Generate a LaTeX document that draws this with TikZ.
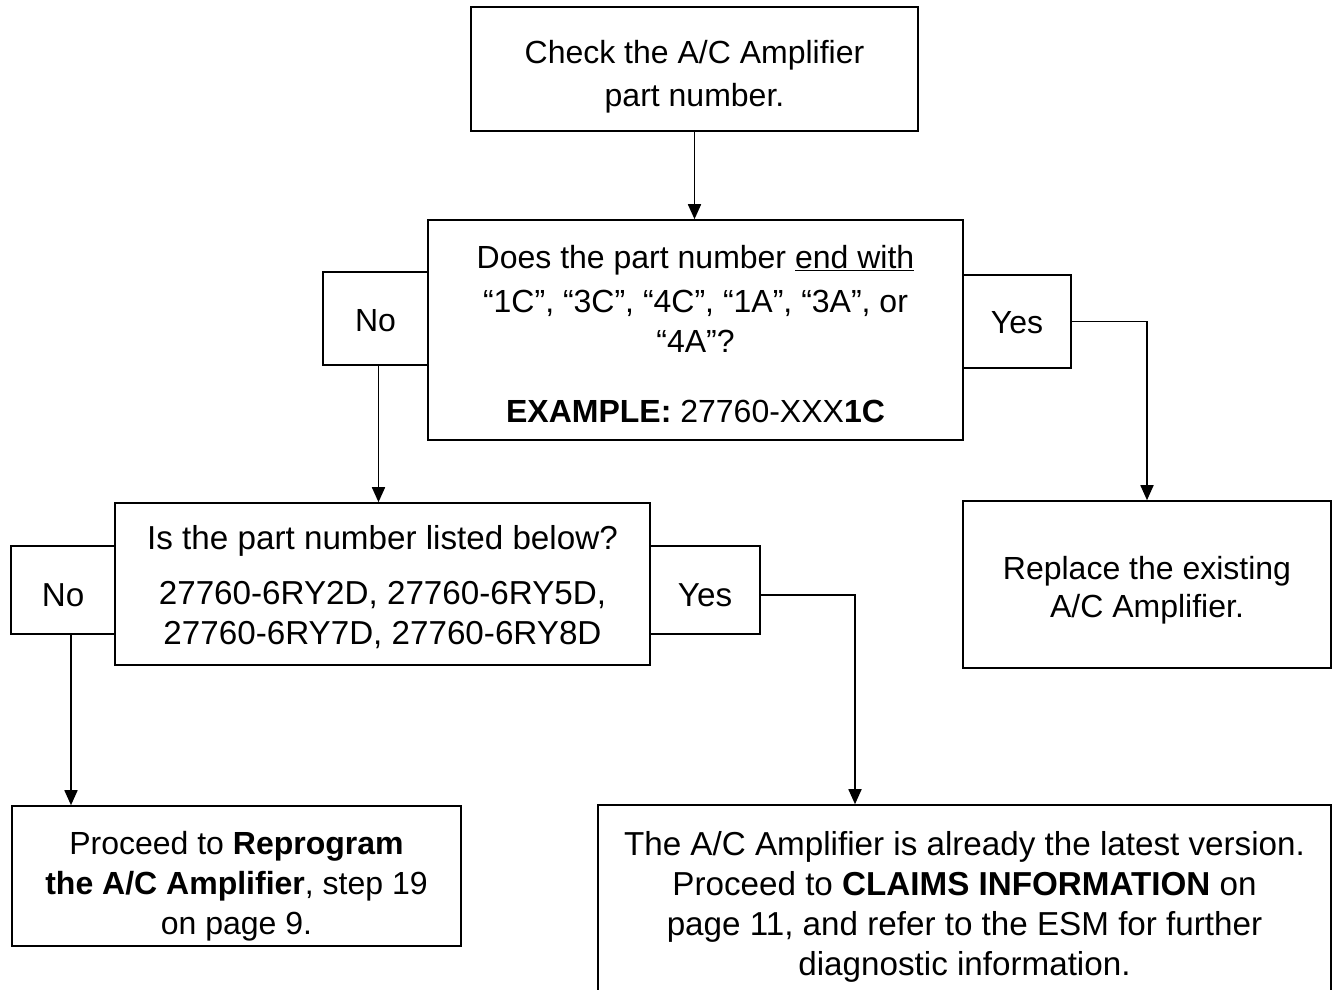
\documentclass[tikz,border=0pt]{standalone}
\usepackage{fontspec}
\setmainfont{Liberation Sans}
\usetikzlibrary{arrows.meta}
\begin{document}
\begin{tikzpicture}[x=1pt,y=-1pt,
  box/.style={draw=black,line width=1.6pt,rectangle,inner sep=0pt},
  txt/.style={inner sep=0pt,align=center,font=\fontsize{32}{40}\selectfont},
  txtb/.style={inner sep=0pt,align=center,font=\fontsize{33.2}{40}\selectfont},
  arr/.style={draw=black,line width=1.7pt,-{Triangle[length=15pt,width=13pt]}}]
\path[use as bounding box] (0,0) rectangle (1336,989);

% boxes
\node[box,minimum width=447pt,minimum height=124pt] (top) at (694.5,69) {};
\node[box,minimum width=535pt,minimum height=220pt] (dec1) at (695.5,330) {};
\node[box,minimum width=105pt,minimum height=93pt] (no1) at (375.5,318.5) {};
\node[box,minimum width=108pt,minimum height=93pt] (yes1) at (1017,321.5) {};
\node[box,minimum width=368pt,minimum height=167pt] (rep) at (1147,584.5) {};
\node[box,minimum width=535pt,minimum height=162pt] (dec2) at (382.5,584) {};
\node[box,minimum width=104pt,minimum height=88pt] (no2) at (63,590) {};
\node[box,minimum width=110pt,minimum height=88pt] (yes2) at (705,590) {};
\node[box,minimum width=449pt,minimum height=140pt] (bl) at (236.5,876) {};
\node[box,minimum width=733pt,minimum height=195pt] (br) at (964.5,902.5) {};

% texts
\node[txt] (topt) at ([yshift=-8pt]top.center)
  {Check the A/C Amplifier\\[3pt]part number.};
\node[txt] (dec1t) at ([yshift=-4pt]dec1.center)
  {Does the part number \underline{end with}\\[4pt]
   “1C”, “3C”, “4C”, “1A”, “3A”, or\\
   “4A”?\\[30pt]
   \textbf{EXAMPLE:} 27760-XXX\textbf{1C}};
\node[txt] (no1t) at ([yshift=-2pt]no1.center) {No};
\node[txt] (yes1t) at ([yshift=-1pt]yes1.center) {Yes};
\node[txt] (rept) at ([yshift=-6pt]rep.center)
  {Replace the existing\\[-2pt]A/C Amplifier.};
\node[txtb] (dec2t) at ([yshift=-3pt]dec2.center)
  {Is the part number listed below?\\[15pt]
   27760-6RY2D, 27760-6RY5D,\\
   27760-6RY7D, 27760-6RY8D};
\node[txtb] (no2t) at ([yshift=-5pt]no2.center) {No};
\node[txtb] (yes2t) at ([yshift=-5pt]yes2.center) {Yes};
\node[txt] (blt) at ([yshift=-10pt]bl.center)
  {Proceed to \textbf{Reprogram}\\
   \textbf{the A/C Amplifier}, step 19\\
   on page 9.};
\node[txtb] (brt) at ([yshift=-4pt]br.center)
  {The A/C Amplifier is already the latest version.\\
   Proceed to \textbf{CLAIMS INFORMATION} on\\
   page 11, and refer to the ESM for further\\
   diagnostic information.};

% connectors
\draw[arr] (top.south) -- (top.south |- dec1.north);
\draw[arr] ([xshift=3pt]no1.south) -- ([xshift=3pt]no1.south |- dec2.north);
\draw[arr] (yes1.east) -| (rep.north);
\draw[arr] ([xshift=8pt]no2.south) -- ([xshift=8pt]no2.south |- bl.north);
\draw[arr] ([yshift=-5pt]yes2.east) -| ([xshift=-109.5pt]br.north);
\end{tikzpicture}
\end{document}
